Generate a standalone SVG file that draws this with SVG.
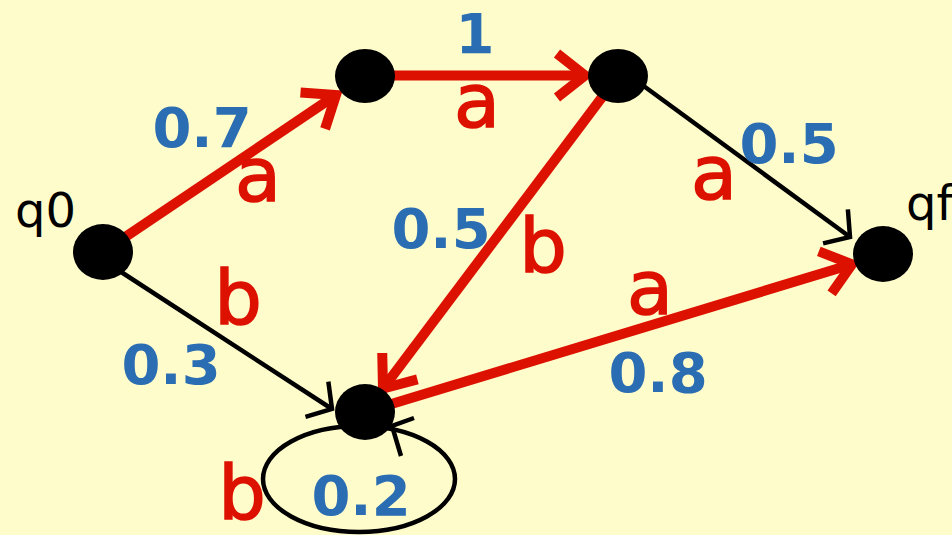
<svg xmlns="http://www.w3.org/2000/svg" width="952" height="535" viewBox="0 0 952 535">
  <defs>
    <style>
      .bg { fill: #FFFCCC; }
      .node { fill: #000; }
      .red { stroke: #DD1100; stroke-width: 10; fill: none; }
      .blk { stroke: #000; stroke-width: 4.5; fill: none; }
      .sym { font-family: "DejaVu Sans", Verdana, sans-serif; font-size: 75px; fill: #DD1100; stroke: #DD1100; stroke-width: 1.6; text-anchor: middle; }
      .prob { font-family: "DejaVu Sans", Verdana, sans-serif; font-weight: bold; font-size: 56px; fill: #2A6DB2; text-anchor: middle; }
      .name { font-family: "DejaVu Sans", Verdana, sans-serif; font-size: 48px; fill: #000; }
    </style>
    <marker id="arrRed" markerUnits="userSpaceOnUse" viewBox="-40 -30 50 60" refX="0" refY="0" markerWidth="50" markerHeight="60" orient="auto" overflow="visible">
      <path d="M-28,-22 L0,0 L-28,22" stroke="#DD1100" stroke-width="10" fill="none" stroke-linejoin="miter"/>
    </marker>
    <marker id="arrBlk" markerUnits="userSpaceOnUse" viewBox="-30 -30 40 60" refX="0" refY="0" markerWidth="40" markerHeight="60" orient="auto" overflow="visible">
      <path d="M-18,-21 L0,0 L-18,21" stroke="#000" stroke-width="4.5" fill="none" stroke-linejoin="miter"/>
    </marker>
  </defs>
  <rect class="bg" x="0" y="0" width="952" height="535"/>

  <g id="connectors">
    <line class="red" x1="103" y1="252" x2="336" y2="95" marker-end="url(#arrRed)"/>
    <line class="red" x1="365" y1="75.5" x2="585" y2="75.5" marker-end="url(#arrRed)"/>
    <line class="red" x1="618" y1="76" x2="383" y2="388.6" marker-end="url(#arrRed)"/>
    <line class="red" x1="365" y1="412" x2="852" y2="264.3" marker-end="url(#arrRed)"/>
    <line class="blk" x1="630" y1="76" x2="850" y2="237" marker-end="url(#arrBlk)"/>
    <line class="blk" x1="115" y1="268" x2="332" y2="409" marker-end="url(#arrBlk)"/>
    <ellipse class="blk" cx="359" cy="479" rx="96" ry="53"/>
    <path class="blk" d="M401,456 L392,426 L414,418"/>
  </g>

  <g id="q0">
    <ellipse class="node" cx="103" cy="252" rx="30" ry="28"/>
    <text class="name" x="15" y="227">q0</text>
  </g>
  <g id="n1">
    <ellipse class="node" cx="365" cy="76" rx="30" ry="27"/>
  </g>
  <g id="n2">
    <ellipse class="node" cx="618" cy="76" rx="30" ry="27"/>
  </g>
  <g id="n3">
    <ellipse class="node" cx="365" cy="412" rx="30" ry="28"/>
  </g>
  <g id="qf">
    <ellipse class="node" cx="883" cy="254" rx="30" ry="28"/>
    <text class="name" x="906" y="220">qf</text>
  </g>

  <g id="labels">
    <text class="prob" x="202" y="147">0.7</text>
    <text class="sym" x="258" y="201">a</text>
    <text class="prob" x="475" y="53">1</text>
    <text class="sym" x="477" y="127">a</text>
    <text class="prob" x="789" y="163">0.5</text>
    <text class="sym" x="714" y="199">a</text>
    <text class="prob" x="441" y="248">0.5</text>
    <text class="sym" x="543" y="272">b</text>
    <text class="sym" x="238" y="324">b</text>
    <text class="prob" x="171" y="384">0.3</text>
    <text class="sym" x="650" y="314">a</text>
    <text class="prob" x="658" y="392">0.8</text>
    <text class="sym" x="242" y="519">b</text>
    <text class="prob" x="361" y="515">0.2</text>
  </g>
</svg>
